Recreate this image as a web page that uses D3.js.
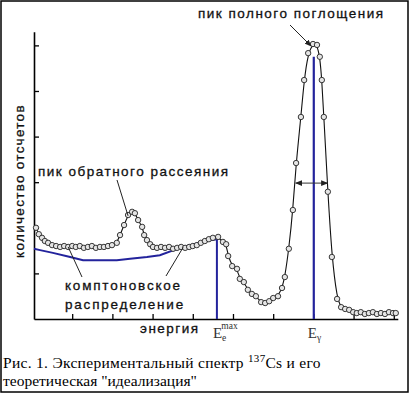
<!DOCTYPE html>
<html><head><meta charset="utf-8">
<script src="https://cdn.jsdelivr.net/npm/d3@7"></script>
<style>body{margin:0;background:#fff}svg{display:block}</style>
</head><body><svg id="c" width="410" height="394"></svg>
<script>
// experimental spectrum (channel units, counts units)
const spectrumX = [0.10,0.17,0.25,0.32,0.40,0.50,0.60,0.70,0.80,0.90,1.00,1.09,1.19,1.29,1.39,1.49,1.59,1.69,1.79,1.89,1.99,2.11,2.19,2.29,2.39,2.49,2.56,2.64,2.74,2.79,2.86,2.94,3.01,3.11,3.21,3.31,3.41,3.51,3.61,3.71,3.81,3.91,4.00,4.10,4.20,4.30,4.40,4.50,4.63,4.75,4.83,4.88,4.98,5.10,5.17,5.27,5.37,5.47,5.57,5.70,5.80,5.90,6.00,6.12,6.22,6.29,6.39,6.49,6.57,6.69,6.77,6.87,6.99,7.09,7.16,7.21,7.26,7.36,7.46,7.59,7.69,7.79,7.89,7.99,8.08,8.18,8.28,8.38,8.48,8.58,8.68,8.78,8.88,8.98,9.05];
const spectrumY = [2.00,1.86,1.78,1.71,1.67,1.62,1.60,1.58,1.60,1.58,1.60,1.58,1.60,1.56,1.58,1.60,1.56,1.58,1.58,1.60,1.62,1.67,1.84,2.06,2.28,2.35,2.32,2.17,2.02,1.84,1.73,1.64,1.58,1.56,1.58,1.56,1.58,1.54,1.56,1.58,1.56,1.58,1.60,1.62,1.67,1.71,1.75,1.78,1.80,1.69,1.64,1.38,1.16,1.10,0.88,0.81,0.64,0.55,0.50,0.37,0.35,0.39,0.46,0.50,0.68,0.92,1.54,2.39,3.42,4.43,5.24,5.83,6.03,6.01,5.75,5.24,4.43,2.79,1.36,0.44,0.26,0.22,0.20,0.15,0.13,0.15,0.11,0.13,0.15,0.11,0.13,0.11,0.15,0.13,0.13];
// theoretical Compton distribution
const comptonX = [0.05,0.20,0.52,0.95,1.27,1.69,2.11,2.44,2.86,3.18,3.68,4.18,4.43,4.60,4.60];
const comptonY = [1.54,1.51,1.45,1.36,1.29,1.29,1.29,1.32,1.36,1.40,1.56,1.67,1.73,1.75,0];
// photopeak line
const photoX = [7.01, 7.01];
const photoY = [5.75, 0];
// FWHM marker
const fwhmX = [6.56, 7.35];
const fwhmY = [2.98, 2.98];
const xTicks = [1,2,3,4,5,6,7,8,9];
const yTicks = [1,2,3,4,5,6];
const textPeak = "пик полного поглощения";
const textBack = "пик обратного рассеяния";
const textCompton = ["комптоновское","распределение"];
const textXAxis = "энергия";
const textYAxis = "количество отсчетов";
const captionLines = ["Рис. 1. Экспериментальный спектр ", "137", "Cs и его", "теоретическая \"идеализация\""];

const svg = d3.select("#c");
const blue = "#23239c";
const x = d3.scaleLinear().domain([0.05, 9.1]).range([34, 397.8]);
const y = d3.scaleLinear().domain([0, 6.3]).range([319, 31.7]);

// frame
svg.append("rect").attr("x",1).attr("y",1).attr("width",407).attr("height",391)
  .attr("fill","none").attr("stroke","#000").attr("stroke-width",1.5);

// axes
const ya = svg.append("g").attr("transform",`translate(${x(0.05)},0)`)
  .call(d3.axisLeft(y).tickValues(yTicks).tickSize(-5).tickSizeOuter(0).tickFormat(""));
const xa = svg.append("g").attr("transform",`translate(0,${y(0)})`)
  .call(d3.axisBottom(x).tickValues(xTicks).tickSize(-5).tickSizeOuter(0).tickFormat(""));
[ya,xa].forEach(g=>{g.selectAll("path").attr("stroke","#000").attr("stroke-width",1.6);
  g.selectAll("line").attr("stroke","#000").attr("stroke-width",1.3);});

// compton curve
const comp = comptonX.map((v,i)=>[v,comptonY[i]]);
svg.append("path").attr("d", d3.line().x(d=>x(d[0])).y(d=>y(d[1]))(comp))
  .attr("fill","none").attr("stroke",blue).attr("stroke-width",2);

// photopeak line
svg.append("path").attr("d", d3.line()(photoX.map((v,i)=>[x(v),y(photoY[i])])))
  .attr("stroke",blue).attr("stroke-width",2.2);

// spectrum line and points
const spec = spectrumX.map((v,i)=>[v,spectrumY[i]]);
svg.append("path").attr("d", d3.line().x(d=>x(d[0])).y(d=>y(d[1])).curve(d3.curveBasis)(spec))
  .attr("fill","none").attr("stroke","#111").attr("stroke-width",1.1);
svg.append("g").selectAll("circle").data(spec).join("circle")
  .attr("cx",d=>x(d[0])).attr("cy",d=>y(d[1])).attr("r",2.7)
  .attr("fill","#e4e4e4").attr("stroke","#222").attr("stroke-width",0.9);

// arrow markers
const defs = svg.append("defs");
defs.append("marker").attr("id","ah").attr("viewBox","0 0 10 10").attr("refX",9).attr("refY",5)
  .attr("markerWidth",7).attr("markerHeight",7).attr("orient","auto-start-reverse")
  .append("path").attr("d","M0,1L10,5L0,9Z").attr("fill","#222");

// FWHM double arrow
svg.append("line").attr("x1",x(fwhmX[0])).attr("x2",x(fwhmX[1])).attr("y1",y(fwhmY[0])).attr("y2",y(fwhmY[1]))
  .attr("stroke","#333").attr("stroke-width",1).attr("marker-start","url(#ah)").attr("marker-end","url(#ah)");

const sans = "'Liberation Sans', Arial, sans-serif";
function label(t, px, py, opts={}) {
  return svg.append("text").attr("x",px).attr("y",py).text(t)
    .attr("font-family",sans).attr("font-size",opts.size||13.5)
    .attr("letter-spacing",opts.ls!=null?opts.ls:1.5).attr("fill","#111")
    .attr("stroke","#111").attr("stroke-width",0.3)
    .attr("text-anchor",opts.anchor||"start");
}
// top label + arrow to photopeak
label(textPeak, 198, 18);
svg.append("line").attr("x1",290).attr("y1",25).attr("x2",x(6.94)).attr("y2",y(6.03)+2)
  .attr("stroke","#222").attr("stroke-width",1).attr("marker-end","url(#ah)");
// backscatter label
label(textBack, 38, 176);
svg.append("line").attr("x1",117).attr("y1",180).attr("x2",x(2.39)).attr("y2",y(2.35)+4)
  .attr("stroke","#222").attr("stroke-width",1);
// compton labels
label(textCompton[0], 65, 290, {ls:1.8});
label(textCompton[1], 65, 309, {ls:1.8});
svg.append("line").attr("x1",82).attr("y1",277).attr("x2",x(0.90)).attr("y2",y(1.58))
  .attr("stroke","#222").attr("stroke-width",1);
svg.append("line").attr("x1",166).attr("y1",276).attr("x2",x(3.76)).attr("y2",y(1.57))
  .attr("stroke","#222").attr("stroke-width",1);
// axis labels
label(textXAxis, 140, 333);
label(textYAxis, 0, 0, {anchor:"middle", ls:1.3}).attr("transform","translate(24,181) rotate(-90)");

// energy labels
const serif = "'Liberation Serif', 'Times New Roman', serif";
const e1 = svg.append("text").attr("x",x(4.60)-4).attr("y",338).attr("font-family",serif).attr("font-size",15).attr("fill","#333");
e1.append("tspan").text("E");
e1.append("tspan").attr("font-size",9.5).attr("dy",3).text("e");
e1.append("tspan").attr("font-size",9.5).attr("dx",-5).attr("dy",-12).text("max");
const e2 = svg.append("text").attr("x",x(7.01)-6).attr("y",338).attr("font-family",serif).attr("font-size",15).attr("fill","#333");
e2.append("tspan").text("E");
e2.append("tspan").attr("font-size",9.5).attr("dy",3).text("γ");

// caption
const c1 = svg.append("text").attr("x",3).attr("y",368).attr("font-family",serif).attr("font-size",15.5)
  .attr("letter-spacing",0.3).attr("fill","#000");
c1.append("tspan").text(captionLines[0]);
c1.append("tspan").attr("font-size",11).attr("dy",-6).text(captionLines[1]);
c1.append("tspan").attr("dy",6).text(captionLines[2]);
svg.append("text").attr("x",3).attr("y",386).attr("font-family",serif).attr("font-size",15.5).attr("fill","#000").text(captionLines[3]);
</script></body></html>
